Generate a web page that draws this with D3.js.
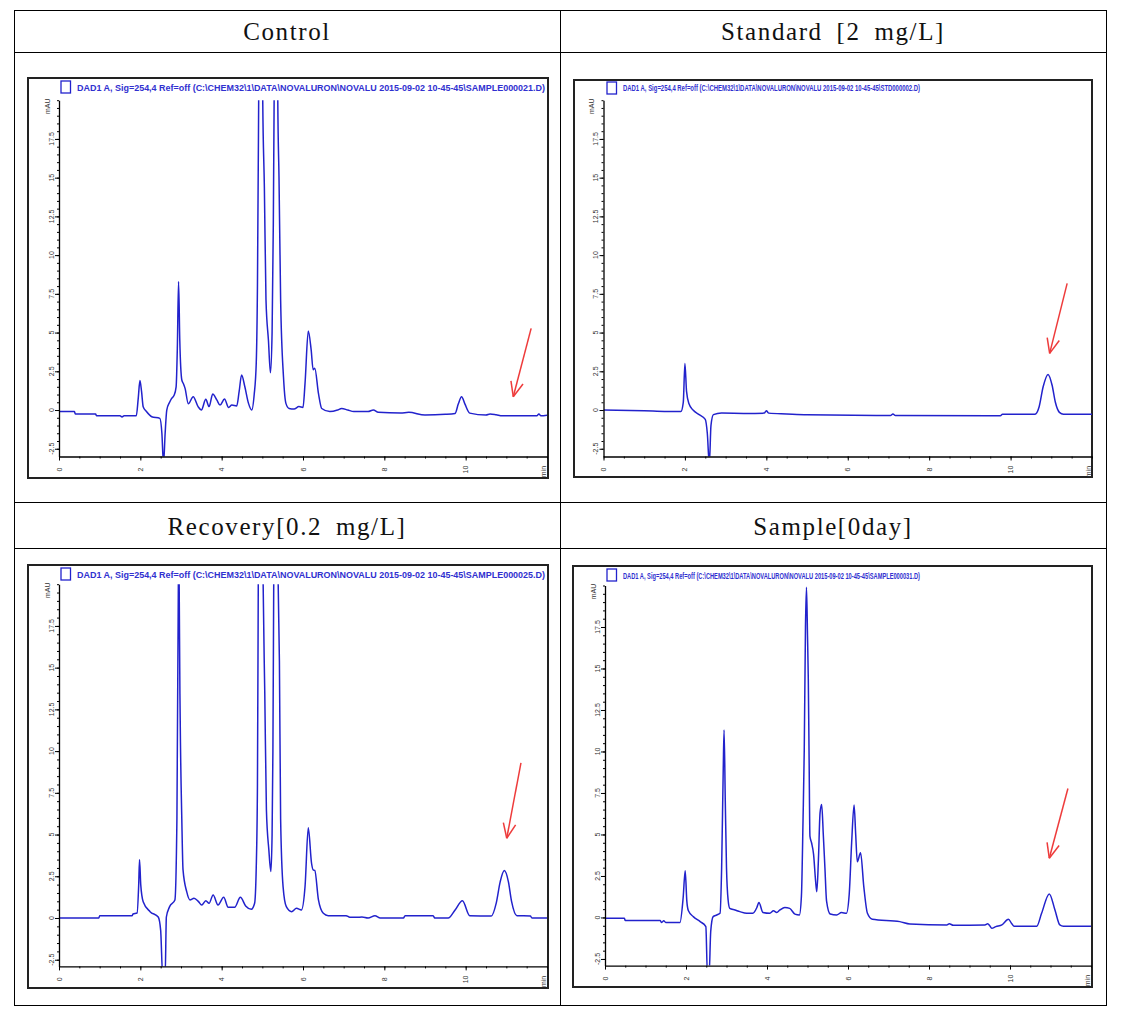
<!DOCTYPE html>
<html><head><meta charset="utf-8">
<script src="https://cdn.jsdelivr.net/npm/d3@7"></script>
<style>body{margin:0;background:#fff}</style>
</head><body>
<svg id="c" width="1123" height="1019"></svg>
<script>
// ---------- data ----------
const headers = ["Control", "Standard [2 mg/L]", "Recovery[0.2 mg/L]", "Sample[0day]"];
const legendTexts = [
  "DAD1 A, Sig=254,4 Ref=off (C:\\CHEM32\\1\\DATA\\NOVALURON\\NOVALU 2015-09-02 10-45-45\\SAMPLE000021.D)",
  "DAD1 A, Sig=254,4 Ref=off (C:\\CHEM32\\1\\DATA\\NOVALURON\\NOVALU 2015-09-02 10-45-45\\STD000002.D)",
  "DAD1 A, Sig=254,4 Ref=off (C:\\CHEM32\\1\\DATA\\NOVALURON\\NOVALU 2015-09-02 10-45-45\\SAMPLE000025.D)",
  "DAD1 A, Sig=254,4 Ref=off (C:\\CHEM32\\1\\DATA\\NOVALURON\\NOVALU 2015-09-02 10-45-45\\SAMPLE000031.D)"
];
const xTicks = [0, 2, 4, 6, 8, 10];
const yTicks = [-2.5, 0, 2.5, 5, 7.5, 10, 12.5, 15, 17.5];
const yTickLabels = ["-2.5", "0", "2.5", "5", "7.5", "10", "12.5", "15", "17.5"];

// [time (min), signal (mAU)]
const controlTrace = [[0,-0.1],[0.38,-0.1],[0.40,-0.25],[0.9,-0.25],[0.92,-0.37],[1.5,-0.37],[1.55,-0.45],[1.6,-0.37],[1.9,-0.37],[1.95,0.8],[1.99,1.9],[2.03,1.2],[2.07,0.21],[2.15,-0.1],[2.28,-0.43],[2.48,-0.54],[2.53,-1.5],[2.57,-3.5],[2.61,-1.5],[2.65,0.0],[2.72,0.5],[2.77,0.75],[2.83,0.95],[2.88,1.5],[2.91,4],[2.94,8.3],[2.97,4.5],[3.02,1.94],[3.06,1.7],[3.1,1.4],[3.18,0.4],[3.30,0.86],[3.42,0.22],[3.50,0.0],[3.61,0.69],[3.69,0.22],[3.78,1.03],[3.88,0.65],[3.96,0.32],[4.07,0.71],[4.17,0.17],[4.25,0.32],[4.37,0.26],[4.43,1.2],[4.49,2.26],[4.57,1.5],[4.66,0.43],[4.74,0.0],[4.80,1.0],[4.85,3],[4.88,8],[4.91,20],[4.96,45],[5.01,20],[5.05,14.4],[5.09,7.1],[5.15,4.5],[5.2,2.4],[5.24,5],[5.27,12],[5.29,20],[5.34,45],[5.38,20],[5.41,15],[5.45,7.1],[5.52,2.15],[5.58,0.43],[5.66,0.1],[5.78,0.06],[5.90,0.22],[6.0,0.17],[6.05,1.72],[6.13,5.1],[6.2,3.9],[6.25,2.6],[6.29,2.7],[6.38,1.07],[6.46,0.1],[6.66,-0.1],[6.85,0.0],[6.95,0.1],[7.1,0.0],[7.25,-0.1],[7.6,-0.1],[7.73,0.0],[7.85,-0.15],[8.4,-0.2],[8.6,-0.15],[9.0,-0.32],[9.5,-0.28],[9.74,-0.22],[9.82,0.4],[9.90,0.86],[9.98,0.4],[10.1,-0.2],[10.5,-0.32],[10.6,-0.25],[10.75,-0.3],[10.9,-0.37],[11.75,-0.37],[11.8,-0.25],[11.85,-0.37],[12,-0.33]];

const standardTrace = [[0,0.0],[1.0,-0.05],[1.9,-0.1],[1.96,0.5],[2.0,3.0],[2.04,1.2],[2.1,0.4],[2.2,0.0],[2.35,-0.3],[2.5,-0.6],[2.55,-1.5],[2.6,-3.5],[2.64,-1.0],[2.7,-0.3],[2.9,-0.2],[3.5,-0.22],[3.95,-0.2],[4.0,-0.05],[4.06,-0.2],[4.5,-0.25],[5,-0.3],[7.05,-0.35],[7.11,-0.25],[7.17,-0.35],[9.75,-0.37],[9.8,-0.27],[10.6,-0.27],[10.7,0.2],[10.8,1.5],[10.92,2.3],[11.02,1.6],[11.1,0.5],[11.2,-0.15],[11.3,-0.27],[12,-0.27]];

const recoveryTrace = [[0,0],[0.98,0],[1.0,0.14],[1.8,0.14],[1.82,0.24],[1.92,0.3],[1.96,2.0],[1.98,3.5],[2.01,2.0],[2.07,0.98],[2.24,0.38],[2.44,0.06],[2.5,-0.74],[2.55,-3.5],[2.61,-3.5],[2.64,0.06],[2.72,0.68],[2.85,1.08],[2.9,6],[2.935,20],[2.945,32],[2.955,20],[2.98,12],[3.02,5.9],[3.05,2.88],[3.14,1.58],[3.22,1.08],[3.32,1.18],[3.43,0.98],[3.51,0.78],[3.61,1.04],[3.69,0.88],[3.79,1.38],[3.91,0.78],[4.05,1.24],[4.16,0.64],[4.32,0.64],[4.46,1.24],[4.59,0.72],[4.73,0.52],[4.81,0.88],[4.85,3],[4.88,8],[4.90,20],[4.96,45],[5.02,20],[5.06,13.5],[5.1,6.5],[5.16,4.08],[5.21,2.78],[5.24,5],[5.26,10],[5.28,20],[5.33,45],[5.39,20],[5.42,15.4],[5.45,5.9],[5.51,1.88],[5.59,0.68],[5.72,0.38],[5.84,0.58],[5.96,0.48],[6.05,1.88],[6.13,5.4],[6.21,3.28],[6.25,2.88],[6.29,2.85],[6.38,1.08],[6.5,0.28],[6.62,0.14],[7.06,0.14],[7.15,0.05],[7.32,0.04],[7.45,0.06],[7.6,0.0],[7.77,0.14],[7.9,0.0],[8.47,0.0],[8.51,0.14],[9.2,0.14],[9.24,0.0],[9.57,0.0],[9.74,0.48],[9.92,1.04],[10.1,0.14],[10.63,0.12],[10.75,0.88],[10.85,2.18],[10.95,2.84],[11.05,2.18],[11.13,0.98],[11.26,0.14],[11.59,0.12],[11.63,0.0],[12,0.0]];

const sampleTrace = [[0,-0.05],[0.48,-0.05],[0.5,-0.19],[1.36,-0.19],[1.4,-0.3],[1.45,-0.2],[1.5,-0.3],[1.85,-0.31],[1.93,1.2],[1.98,2.82],[2.02,1.0],[2.06,0.4],[2.18,0.05],[2.35,-0.25],[2.49,-0.55],[2.53,-3.5],[2.57,-3.5],[2.61,-0.85],[2.67,0.05],[2.76,0.15],[2.84,0.25],[2.88,3],[2.92,9],[2.94,11.3],[2.97,7],[3.0,3],[3.04,1.05],[3.08,0.55],[3.21,0.45],[3.33,0.35],[3.5,0.25],[3.65,0.25],[3.75,0.6],[3.8,0.9],[3.9,0.3],[4.07,0.25],[4.16,0.4],[4.24,0.3],[4.32,0.45],[4.44,0.6],[4.56,0.55],[4.69,0.2],[4.8,0.15],[4.85,1.3],[4.89,5.9],[4.92,10.1],[4.95,17.5],[4.975,19.9],[5.0,17],[5.02,14.3],[5.04,9.5],[5.06,4.9],[5.1,4.5],[5.15,3.8],[5.2,2.2],[5.23,1.55],[5.27,3.5],[5.31,6.3],[5.35,6.8],[5.39,5],[5.43,3.0],[5.47,1.0],[5.56,0.21],[5.72,0.15],[5.84,0.3],[5.96,0.25],[6.03,1.4],[6.09,4.5],[6.15,6.78],[6.19,5],[6.23,3.36],[6.31,3.9],[6.39,1.86],[6.48,0.25],[6.6,-0.11],[7.28,-0.25],[7.53,-0.39],[8.44,-0.45],[8.5,-0.38],[8.6,-0.47],[9.38,-0.45],[9.45,-0.38],[9.5,-0.5],[9.55,-0.65],[9.65,-0.55],[9.8,-0.45],[9.96,-0.11],[10.05,-0.4],[10.1,-0.53],[10.66,-0.53],[10.78,0.25],[10.97,1.42],[11.11,0.45],[11.23,-0.45],[11.32,-0.53],[12,-0.53]];

// arrows: [tail, tip] in [time, mAU]
const controlArrow = [[11.61, 5.27], [11.17, 0.86]];
const standardArrow = [[11.39, 8.18], [10.96, 3.66]];
const recoveryArrow = [[11.36, 9.3], [11.01, 4.78]];
const sampleArrow = [[11.43, 7.77], [10.97, 3.57]];

// ---------- layout ----------
const panels = [
  {title: headers[0], legend: legendTexts[0], trace: controlTrace, arrow: controlArrow,
   frame: [28, 78, 548, 478], px: [59, 547], py: [456.5, 100.2], yMin: -3, box: [61, 81], legX: [77, 545], legY: 90.5},
  {title: headers[1], legend: legendTexts[1], trace: standardTrace, arrow: standardArrow,
   frame: [574, 80, 1092, 477], px: [603.5, 1092], py: [456.5, 100.2], yMin: -3, box: [607, 82], legX: [623, 920], legY: 91},
  {title: headers[2], legend: legendTexts[2], trace: recoveryTrace, arrow: recoveryArrow,
   frame: [28, 565, 548, 988], px: [59, 547], py: [966.4, 584.2], yMin: -2.9, box: [61, 568], legX: [77, 545], legY: 578},
  {title: headers[3], legend: legendTexts[3], trace: sampleTrace, arrow: sampleArrow,
   frame: [573, 566, 1092, 987], px: [605, 1091], py: [965.6, 585.5], yMin: -2.9, box: [607, 569], legX: [623, 920], legY: 579}
];

const svg = d3.select("#c");
svg.append("rect").attr("width", 1123).attr("height", 1019).attr("fill", "#fff");

// ---------- table ----------
const T = {l: 14.5, r: 1106.5, t: 10.5, b: 1005.5, mid: 560.5, rows: [52.5, 502.5, 548.5]};
const tg = svg.append("g").attr("stroke", "#000").attr("stroke-width", 1).attr("fill", "none");
tg.append("rect").attr("x", T.l).attr("y", T.t).attr("width", T.r - T.l).attr("height", T.b - T.t);
tg.append("line").attr("x1", T.mid).attr("x2", T.mid).attr("y1", T.t).attr("y2", T.b);
T.rows.forEach(y => tg.append("line").attr("x1", T.l).attr("x2", T.r).attr("y1", y).attr("y2", y));

const headPos = [[287, 40], [833, 40], [287, 535], [833, 535]];
headers.forEach((h, i) => {
  svg.append("text").attr("x", headPos[i][0]).attr("y", headPos[i][1])
    .attr("text-anchor", "middle").attr("font-family", "'Liberation Serif', 'DejaVu Serif', serif")
    .attr("font-size", 25).attr("letter-spacing", "1.6px").attr("word-spacing", "6px")
    .attr("fill", "#111").text(h);
});

// ---------- panels ----------
const blue = "#2222cc";
panels.forEach((p, i) => {
  const g = svg.append("g");
  const x = d3.scaleLinear().domain([0, 12]).range(p.px);
  const y = d3.scaleLinear().domain([p.yMin, 20]).range(p.py);
  const [fx0, fy0, fx1, fy1] = p.frame;

  // frame
  g.append("rect").attr("x", fx0).attr("y", fy0).attr("width", fx1 - fx0).attr("height", fy1 - fy0)
    .attr("fill", "#fff").attr("stroke", "#222").attr("stroke-width", 2);

  // legend
  g.append("rect").attr("x", p.box[0]).attr("y", p.box[1]).attr("width", 9.5).attr("height", 12)
    .attr("fill", "none").attr("stroke", blue).attr("stroke-width", 1.3);
  g.append("text").attr("x", p.legX[0]).attr("y", p.legY).attr("font-family", "'Liberation Sans Narrow','Liberation Sans',sans-serif")
    .attr("font-size", 9).attr("font-weight", "bold").attr("fill", "#3030d0")
    .attr("textLength", p.legX[1] - p.legX[0]).attr("lengthAdjust", "spacingAndGlyphs").text(p.legend);

  // clip
  const cid = "clip" + i;
  g.append("clipPath").attr("id", cid).append("rect")
    .attr("x", p.px[0]).attr("y", p.py[1]).attr("width", p.px[1] - p.px[0]).attr("height", p.py[0] - p.py[1]);

  // trace
  const line = d3.line().x(d => x(d[0])).y(d => y(d[1])).curve(d3.curveMonotoneX);
  g.append("path").datum(p.trace).attr("d", line).attr("clip-path", `url(#${cid})`)
    .attr("fill", "none").attr("stroke", blue).attr("stroke-width", 1.5).attr("stroke-linejoin", "round");

  // axes (ticks only, labels drawn rotated)
  const xMinor = d3.range(0, 12.01, 0.5);
  const yMinor = d3.range(-2.5, 20.01, 0.5);
  g.append("g").attr("transform", `translate(0,${p.py[0]})`)
    .call(d3.axisBottom(x).tickValues(xMinor).tickSize(2).tickFormat("").tickSizeOuter(0))
    .call(s => s.select(".domain").attr("stroke", "#000").attr("stroke-width", 1.3));
  g.append("g").attr("transform", `translate(0,${p.py[0]})`)
    .call(d3.axisBottom(x).tickValues(xTicks).tickSize(4).tickFormat("").tickSizeOuter(0))
    .call(s => s.select(".domain").remove());
  g.append("g").attr("transform", `translate(${p.px[0]},0)`)
    .call(d3.axisLeft(y).tickValues(yMinor).tickSize(2).tickFormat("").tickSizeOuter(0))
    .call(s => s.select(".domain").attr("stroke", "#000").attr("stroke-width", 1.3));
  g.append("g").attr("transform", `translate(${p.px[0]},0)`)
    .call(d3.axisLeft(y).tickValues(yTicks).tickSize(4).tickFormat("").tickSizeOuter(0))
    .call(s => s.select(".domain").remove());

  const lab = (tx, ty, t) => g.append("text").attr("transform", `translate(${tx},${ty}) rotate(-90)`)
    .attr("text-anchor", "middle").attr("dominant-baseline", "central")
    .attr("font-family", "'Liberation Sans',sans-serif").attr("font-size", 7).attr("fill", "#333").text(t);
  xTicks.forEach(v => lab(x(v), p.py[0] + 13, String(v)));
  yTicks.forEach((v, k) => lab(p.px[0] - 8, y(v), yTickLabels[k]));
  lab(p.px[0] - 12, p.py[1] + 6, "mAU");
  lab(p.px[1] - 4, p.py[0] + 15, "min");

  // red arrow
  const [t0, t1] = p.arrow;
  const ax0 = x(t0[0]), ay0 = y(t0[1]), ax1 = x(t1[0]), ay1 = y(t1[1]);
  const red = "#ee3b3b";
  g.append("line").attr("x1", ax0).attr("y1", ay0).attr("x2", ax1).attr("y2", ay1)
    .attr("stroke", red).attr("stroke-width", 1.5);
  const ang = Math.atan2(ay0 - ay1, ax0 - ax1);
  [-0.4, 0.4].forEach(da => {
    g.append("line").attr("x1", ax1).attr("y1", ay1)
      .attr("x2", ax1 + 16 * Math.cos(ang + da)).attr("y2", ay1 + 16 * Math.sin(ang + da))
      .attr("stroke", red).attr("stroke-width", 1.5);
  });
});
</script>
</body></html>
